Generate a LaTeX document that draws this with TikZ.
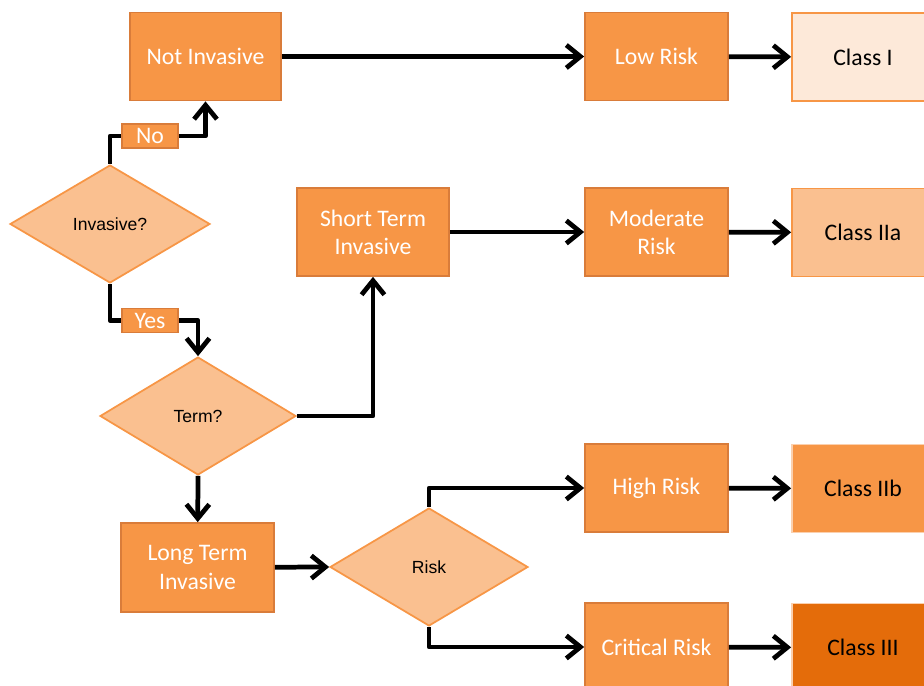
\documentclass[tikz,border=0pt]{standalone}
\usepackage{fontspec}
\setmainfont{Carlito}
\newfontfamily\diafont{Liberation Sans}
\usepackage{tikz}
\usetikzlibrary{shapes.geometric,arrows.meta}
\definecolor{orbox}{HTML}{F79646}
\definecolor{orline}{HTML}{D97C3A}
\definecolor{orlight}{HTML}{FAC090}
\definecolor{orpale}{HTML}{FDE9D9}
\definecolor{ordark}{HTML}{E46C0A}
\definecolor{orrim}{HTML}{FBD0AE}
\tikzset{
	stepbox/.style={draw=orline, fill=orbox, line width=1pt, text=white, align=center,
		font=\fontsize{13.5}{16}\selectfont, minimum width=2.86cm, minimum height=1.76cm, inner sep=0pt},
	classbox/.style={stepbox, text=black, draw=orbox, minimum width=2.84cm},
	choice/.style={diamond, draw=orbox, fill=orlight, line width=1pt, inner sep=0pt,
		font=\diafont\fontsize{10}{12}\selectfont, minimum width=4cm, minimum height=2.36cm},
	answer/.style={draw=orline, fill=orbox, line width=1pt, text=white, inner sep=0pt,
		font=\fontsize{13.5}{16}\selectfont, minimum width=1.12cm, minimum height=0.48cm},
	link/.style={line width=2.7pt, line join=round},
	flow/.style={link, -{Straight Barb[length=8pt, width=13pt, line width=2.7pt]}}
}
\begin{document}
\begin{tikzpicture}[x=0.02cm, y=-0.02cm]
				\clip (0,0) rectangle (924,686);
				\node[stepbox, minimum width=3.02cm] (notinv) at (205.5,56.5) {Not Invasive};
				\node[stepbox] (low) at (656.5,56.5) {Low Risk};
				\node[classbox, fill=orpale] (c1) at (863,57) {Class I};
				\node[choice] (inv) at (110,224) {Invasive?};
				\node[answer] (no) at (150,136) {No};
				\node[answer] (yes) at (150,320.5) {Yes};
				\node[stepbox, minimum width=3.04cm] (short) at (373,232) {Short Term\\Invasive};
				\node[stepbox] (mod) at (656.5,232) {Moderate\\Risk};
				\node[classbox, fill=orlight] (c2a) at (863,232.5) {Class IIa};
				\node[choice, minimum width=3.92cm] (term) at (198,416) {Term?};
				\node[stepbox, minimum width=3.06cm, minimum height=1.78cm] (long) at (197.5,567.5) {Long Term\\Invasive};
				\node[choice, minimum width=3.96cm] (risk) at (429,567) {Risk};
				\node[stepbox] (high) at (656.5,488) {High Risk};
				\node[classbox, draw=orrim] (c2b) at (863,488.5) {Class IIb};
				\node[stepbox] (crit) at (656.5,647) {Critical Risk};
				\node[classbox, fill=ordark, draw=orrim] (c3) at (863,647.5) {Class III};
				\draw[link] (inv.north) |- (no);
				\draw[flow] (no) -| (notinv);
				\draw[link] (inv.south) |- (yes);
				\draw[flow] (yes) -| (term.north);
				\draw[flow] (term.east) -| (short);
				\draw[flow] (term.south) -- (long);
				\draw[flow] (long) -- (risk.west);
				\draw[flow] (risk.north) |- (high);
				\draw[flow] (risk.south) |- (crit);
				\draw[flow] (notinv) -- (low);
				\draw[flow] (low) -- (c1);
				\draw[flow] (short) -- (mod);
				\draw[flow] (mod) -- (c2a);
				\draw[flow] (high) -- (c2b);
				\draw[flow] (crit) -- (c3);
			\end{tikzpicture}
\end{document}
